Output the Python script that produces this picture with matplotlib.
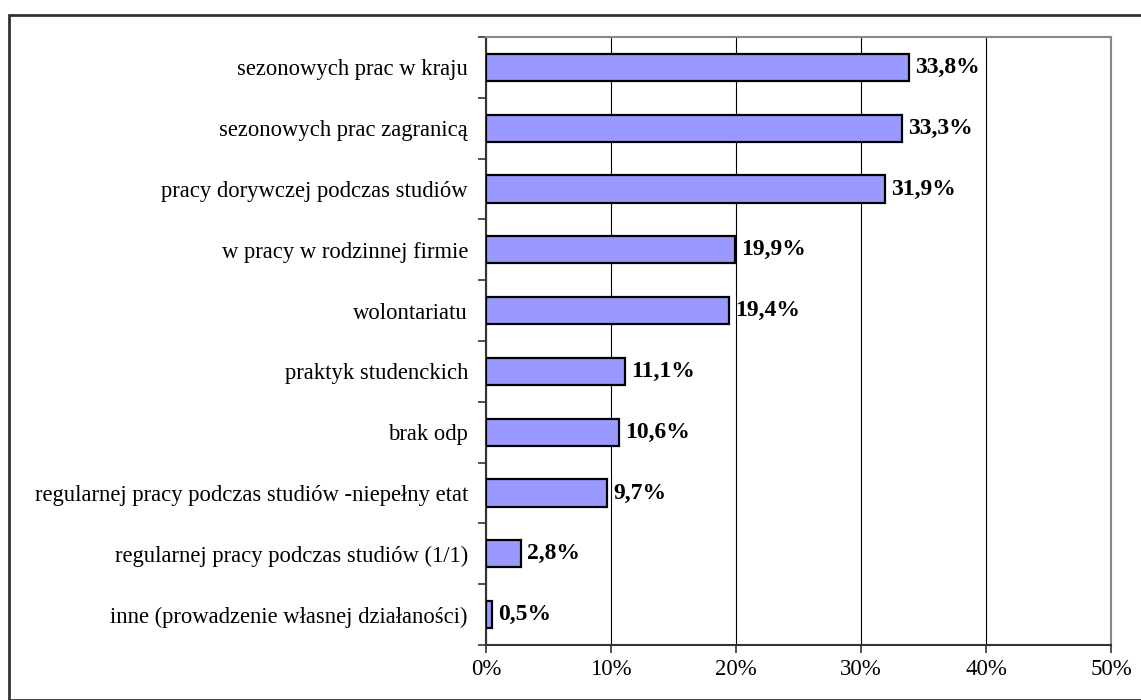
import matplotlib.pyplot as plt
from matplotlib.patches import Rectangle
from matplotlib.ticker import FixedLocator, FuncFormatter
import numpy as np

categories = [
    'sezonowych prac w kraju',
    'sezonowych prac zagranicą',
    'pracy dorywczej podczas studiów',
    'w pracy w rodzinnej firmie',
    'wolontariatu',
    'praktyk studenckich',
    'brak odp',
    'regularnej pracy podczas studiów -niepełny etat',
    'regularnej pracy podczas studiów (1/1)',
    'inne (prowadzenie własnej działaności)',
]
values = [33.8, 33.3, 31.9, 19.9, 19.4, 11.1, 10.6, 9.7, 2.8, 0.5]
value_labels = ['33,8%', '33,3%', '31,9%', '19,9%', '19,4%',
                '11,1%', '10,6%', '9,7%', '2,8%', '0,5%']
x_ticks = [0, 10, 20, 30, 40, 50]

plt.rcParams['font.family'] = ['Liberation Serif', 'DejaVu Serif']

fig = plt.figure(figsize=(11.41, 7), dpi=100, facecolor='white')
# outer frame (only top and left visible in the original)
fig.patches.append(Rectangle((9 / 1141, 0), 1.2, 1 - 15 / 700, transform=fig.transFigure,
                             fill=False, edgecolor='#333333', linewidth=2))

ax = fig.add_axes([486 / 1141, 1 - 645 / 700, 625 / 1141, 608 / 700])
y = np.arange(len(categories))
ax.barh(y, values, height=0.45, color='#9999FF', edgecolor='black', linewidth=1.6, zorder=3)

for yi, v, lab in zip(y, values, value_labels):
    ax.annotate(lab, (v, yi), xytext=(4.5, 0), textcoords='offset points',
                va='center', ha='left', fontsize=17, fontweight='bold', zorder=4)

ax.set_xlim(0, 50)
ax.set_ylim(len(categories) - 0.5, -0.5)
ax.set_xticks(x_ticks)
ax.xaxis.set_major_formatter(FuncFormatter(lambda v, p: '%d%%' % v))
ax.xaxis.grid(True, color='black', linewidth=0.8, zorder=0)

ax.set_yticks(y)
ax.set_yticklabels(categories)
ax.yaxis.set_minor_locator(FixedLocator(np.arange(-0.5, len(categories), 1.0)))
ax.tick_params(axis='y', which='major', length=0, pad=13, labelsize=16.3)
ax.tick_params(axis='y', which='minor', length=6, width=1.2, color='#333333')
ax.tick_params(axis='x', length=6, width=1.2, color='#333333', pad=4, labelsize=16.5)

ax.spines['left'].set_color('#333333')
ax.spines['bottom'].set_color('#333333')
ax.spines['left'].set_linewidth(1.5)
ax.spines['bottom'].set_linewidth(1.5)
ax.spines['top'].set_color('#888888')
ax.spines['right'].set_color('#888888')
ax.spines['top'].set_linewidth(1.5)
ax.spines['right'].set_linewidth(1.5)

fig.savefig('out.png', dpi=100, facecolor='white')
